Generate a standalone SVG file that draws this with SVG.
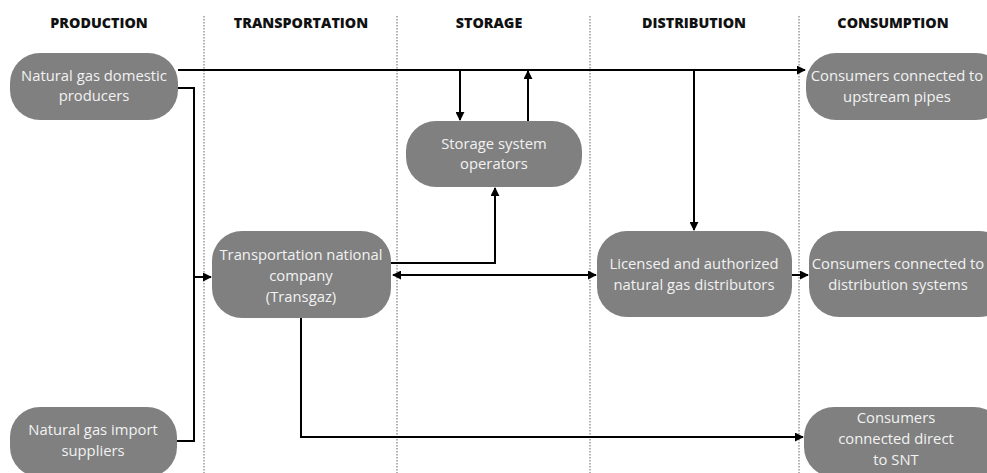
<svg xmlns="http://www.w3.org/2000/svg" width="987" height="473" viewBox="0 0 987 473">
<style>
.hdr{font-family:"Open Sans","Liberation Sans",sans-serif;font-weight:800;font-size:14.3px;fill:#111;text-anchor:middle}
.box{fill:#808080}
.lbl{font-family:"Open Sans","Liberation Sans",sans-serif;font-size:14.8px;fill:#f2f2f2;text-anchor:middle}
.div{stroke:#999;stroke-width:1.5;stroke-dasharray:1.5 1.5;fill:none}
.c{stroke:#000;stroke-width:2;fill:none}
</style>
<defs>
<marker id="ah" viewBox="0 0 10 10" refX="9" refY="5" markerWidth="4.5" markerHeight="4.5" orient="auto-start-reverse" markerUnits="strokeWidth">
<path d="M0,0 L10,5 L0,10 z" fill="#000"/>
</marker>
</defs>
<rect width="987" height="473" fill="#fff"/>
<g id="headers">
<text class="hdr" x="99" y="28">PRODUCTION</text>
<text class="hdr" x="301" y="28">TRANSPORTATION</text>
<text class="hdr" x="489" y="28">STORAGE</text>
<text class="hdr" x="694" y="28">DISTRIBUTION</text>
<text class="hdr" x="893" y="28">CONSUMPTION</text>
</g>
<g id="dividers">
<line class="div" x1="204" y1="16" x2="204" y2="473"/>
<line class="div" x1="397" y1="16" x2="397" y2="473"/>
<line class="div" x1="590" y1="16" x2="590" y2="473"/>
<line class="div" x1="799" y1="16" x2="799" y2="473"/>
</g>
<g id="connectors">
<line class="c" x1="178" y1="70" x2="805" y2="70" marker-end="url(#ah)"/>
<line class="c" x1="460" y1="70" x2="460" y2="120" marker-end="url(#ah)"/>
<line class="c" x1="528" y1="121" x2="528" y2="71" marker-end="url(#ah)"/>
<line class="c" x1="694" y1="70" x2="694" y2="230" marker-end="url(#ah)"/>
<polyline class="c" points="178,88 194,88 194,441 177,441"/>
<line class="c" x1="194" y1="277" x2="211" y2="277" marker-end="url(#ah)"/>
<polyline class="c" points="391,263 495,263 495,188" marker-end="url(#ah)"/>
<line class="c" x1="393" y1="275" x2="596" y2="275" marker-start="url(#ah)" marker-end="url(#ah)"/>
<line class="c" x1="792" y1="275" x2="808" y2="275" marker-end="url(#ah)"/>
<polyline class="c" points="301,318 301,437 803,437" marker-end="url(#ah)"/>
</g>
<g id="n-domestic">
<rect class="box" x="10" y="53" width="168" height="67" rx="30"/>
<text class="lbl" x="94" y="81">Natural gas domestic</text>
<text class="lbl" x="94" y="101">producers</text>
</g>
<g id="n-import">
<rect class="box" x="10" y="407" width="167" height="70" rx="30"/>
<text class="lbl" x="93" y="435">Natural gas import</text>
<text class="lbl" x="93" y="456">suppliers</text>
</g>
<g id="n-transport">
<rect class="box" x="212" y="231" width="179" height="87" rx="30"/>
<text class="lbl" x="301" y="260">Transportation national</text>
<text class="lbl" x="301" y="281">company</text>
<text class="lbl" x="301" y="302">(Transgaz)</text>
</g>
<g id="n-storage">
<rect class="box" x="406" y="121" width="176" height="66" rx="30"/>
<text class="lbl" x="494" y="149">Storage system</text>
<text class="lbl" x="494" y="169">operators</text>
</g>
<g id="n-distributors">
<rect class="box" x="597" y="231" width="195" height="86" rx="30"/>
<text class="lbl" x="694" y="269">Licensed and authorized</text>
<text class="lbl" x="694" y="290">natural gas distributors</text>
</g>
<g id="n-upstream">
<rect class="box" x="806" y="53" width="200" height="67" rx="30"/>
<text class="lbl" x="897" y="81">Consumers connected to</text>
<text class="lbl" x="897" y="102">upstream pipes</text>
</g>
<g id="n-distsys">
<rect class="box" x="809" y="231" width="200" height="86" rx="30"/>
<text class="lbl" x="898" y="269">Consumers connected to</text>
<text class="lbl" x="898" y="290">distribution systems</text>
</g>
<g id="n-snt">
<rect class="box" x="804" y="407" width="200" height="70" rx="30"/>
<text class="lbl" x="896" y="423">Consumers</text>
<text class="lbl" x="896" y="444">connected direct</text>
<text class="lbl" x="896" y="465">to SNT</text>
</g>
</svg>
